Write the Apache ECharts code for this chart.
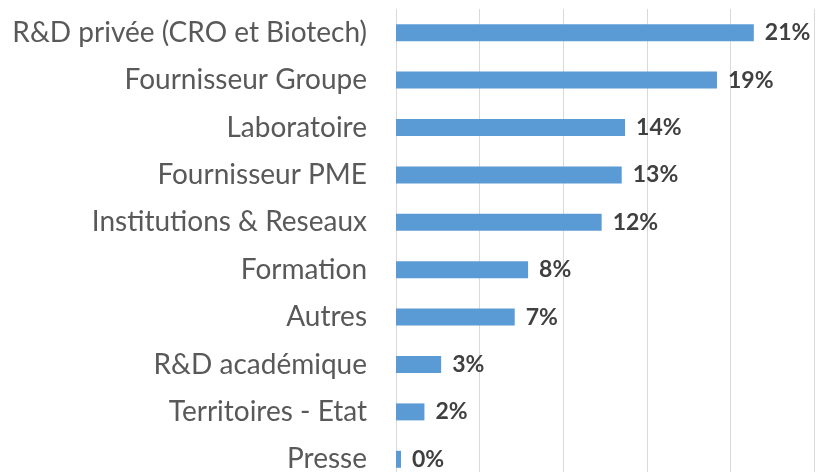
<!DOCTYPE html>
<html>
<head>
<meta charset="utf-8">
<script src="https://cdn.jsdelivr.net/npm/echarts@6/dist/echarts.min.js"></script>
<style>
  html, body { margin: 0; padding: 0; background: #fff; }
  #chart { width: 826px; height: 472px; }
</style>
</head>
<body>
<div id="chart"></div>
<script>
// catégories, de haut en bas
var categories = [
  'R&D privée (CRO et Biotech)',
  'Fournisseur Groupe',
  'Laboratoire',
  'Fournisseur PME',
  'Institutions & Reseaux',
  'Formation',
  'Autres',
  'R&D académique',
  'Territoires - Etat',
  'Presse'
];
// longueurs (en %)
var values = [21.4, 19.2, 13.7, 13.5, 12.3, 7.9, 7.1, 2.7, 1.7, 0.3];
// étiquettes affichées
var labels = ['21%', '19%', '14%', '13%', '12%', '8%', '7%', '3%', '2%', '0%'];
var xMin = 0, xMax = 25, xStep = 5;

var myChart = echarts.init(document.getElementById('chart'));
myChart.setOption({
  animation: false,
  grid: {
    left: 396,
    right: 12,
    top: 9,
    height: 474,
    outerBoundsMode: 'none'
  },
  xAxis: {
    type: 'value',
    min: xMin,
    max: xMax,
    interval: xStep,
    axisLabel: { show: false },
    axisTick: { show: false },
    axisLine: { show: false },
    splitLine: {
      show: true,
      lineStyle: { color: '#D9D9D9', width: 1 }
    }
  },
  yAxis: {
    type: 'category',
    inverse: true,
    data: categories,
    axisTick: { show: false },
    axisLine: { show: false },
    axisLabel: {
      margin: 29,
      color: '#595959',
      fontFamily: 'Lato',
      fontSize: 28
    }
  },
  series: [
    {
      type: 'bar',
      data: values,
      barWidth: 17,
      itemStyle: { color: '#5B9BD5' },
      label: {
        show: true,
        position: 'right',
        distance: 11,
        color: '#404040',
        fontFamily: 'Lato',
        fontWeight: 'bold',
        fontSize: 23,
        formatter: function (p) { return labels[p.dataIndex]; }
      }
    }
  ]
});
</script>
</body>
</html>
